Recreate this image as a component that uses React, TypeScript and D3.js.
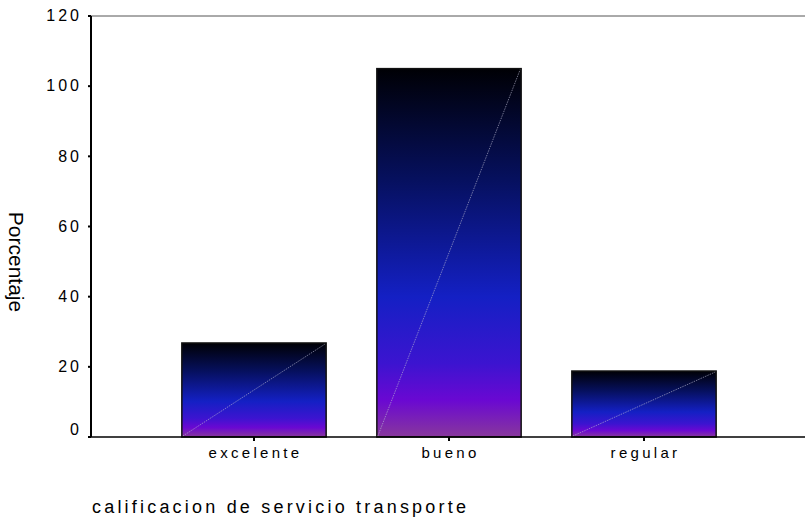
import React from "react";
import * as d3 from "d3";

const categories = ["excelente", "bueno", "regular"];
const values = [26.8, 105, 18.8];
const yTicks = [0, 20, 40, 60, 80, 100, 120];
const xTitle = "calificacion de servicio transporte";
const yTitle = "Porcentaje";

export default function App() {
  const W = 805, H = 517;
  const left = 91, right = 805, top = 16, bottom = 437;
  const y = d3.scaleLinear().domain([0, 120]).range([bottom, top]);
  const x = d3.scaleBand<string>().domain(categories).range([156.5, 741.5]).paddingInner(0.26).paddingOuter(0.13);
  const font = "'Liberation Sans', Arial, sans-serif";
  return (
    <svg width={W} height={H} style={{ position: "absolute", left: 0, top: 0 }}>
      <defs>
        <linearGradient id="g" x1="0" y1="0" x2="0" y2="1">
          <stop offset="0" stopColor="#000005" />
          <stop offset="0.3" stopColor="#06105e" />
          <stop offset="0.62" stopColor="#1420c4" />
          <stop offset="0.8" stopColor="#3c14d0" />
          <stop offset="0.9" stopColor="#6a08d2" />
          <stop offset="1" stopColor="#88389c" />
        </linearGradient>
      </defs>
      <rect x={0} y={0} width={W} height={H} fill="#fff" />
      {values.map((v, i) => {
        const c = categories[i];
        const x0 = x(c)!, bw = x.bandwidth();
        const y0 = y(v);
        return (
          <g key={c}>
            <rect x={x0} y={y0} width={bw} height={bottom - y0} fill="url(#g)" stroke="#111" strokeWidth={1.5} />
            <line x1={x0 + 1} y1={bottom - 1} x2={x0 + bw - 1} y2={y0 + 1} stroke="#b8b8d0" strokeWidth={0.6} strokeDasharray="1.5 1" />
          </g>
        );
      })}
      <line x1={left} y1={top} x2={right} y2={top} stroke="#555" strokeWidth={1} />
      <line x1={left} y1={bottom} x2={right} y2={bottom} stroke="#000" strokeWidth={1.5} />
      <line x1={left} y1={top} x2={left} y2={bottom} stroke="#000" strokeWidth={2} />
      {yTicks.map((t) => (
        <g key={t}>
          <line x1={left - 3} y1={y(t)} x2={left} y2={y(t)} stroke="#000" strokeWidth={2} />
          <text x={82} y={t === 0 ? y(t) - 7 : y(t)} dy="0.33em" textAnchor="end" fontFamily={font} fontSize={16} letterSpacing={3} fill="#000">{t}</text>
        </g>
      ))}
      {categories.map((c) => (
        <g key={c}>
          <line x1={x(c)! + x.bandwidth() / 2} y1={bottom} x2={x(c)! + x.bandwidth() / 2} y2={bottom + 4} stroke="#000" strokeWidth={2} />
          <text x={x(c)! + x.bandwidth() / 2 + 1.5} y={458} textAnchor="middle" fontFamily={font} fontSize={15} letterSpacing={3.3} fill="#000">{c}</text>
        </g>
      ))}
      <text x={92} y={513} fontFamily={font} fontSize={18} letterSpacing={3.2} fill="#000">{xTitle}</text>
      <text transform={`translate(9,262) rotate(90)`} textAnchor="middle" fontFamily={font} fontSize={21} fill="#000">{yTitle}</text>
    </svg>
  );
}
